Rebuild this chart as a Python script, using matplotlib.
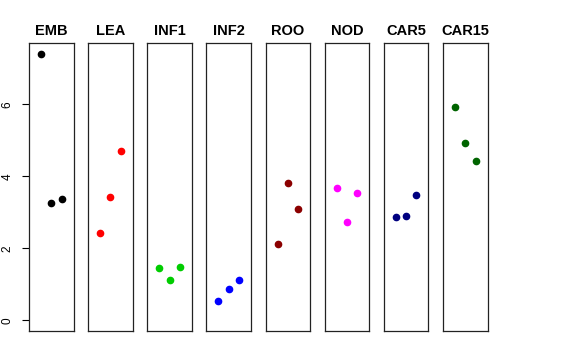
#!/usr/bin/env python3
import matplotlib
matplotlib.use("Agg")
import matplotlib.pyplot as plt

plt.rcParams["font.family"] = ["Liberation Sans", "DejaVu Sans"]

tissues = ["EMB", "LEA", "INF1", "INF2", "ROO", "NOD", "CAR5", "CAR15"]
colors = ["black", "red", "#00CD00", "blue", "#8B0000", "magenta", "#000080", "#006400"]
reps = [1, 2, 3]
values = [
    [7.41, 3.27, 3.38],
    [2.44, 3.42, 4.70],
    [1.45, 1.12, 1.49],
    [0.53, 0.86, 1.12],
    [2.13, 3.82, 3.10],
    [3.68, 2.74, 3.53],
    [2.88, 2.91, 3.48],
    [5.93, 4.93, 4.44],
]
yticks = [0, 2, 4, 6]

W, H = 576, 360
fig = plt.figure(figsize=(W / 100, H / 100), dpi=100)

ymax = max(max(v) for v in values)
pad = 0.04 * ymax
for i, (name, col, vals) in enumerate(zip(tissues, colors, values)):
    left = 29 + i * 59.15
    ax = fig.add_axes([left / W, 29 / H, 44.5 / W, 288 / H])
    ax.plot(reps, vals, "o", color=col, markersize=4.5, linestyle="none")
    ax.set_xlim(0 - 0.16, 4 + 0.16)
    ax.set_ylim(0 - pad, ymax + pad)
    ax.set_xticks([])
    for s in ax.spines.values():
        s.set_linewidth(0.9)
        s.set_color("#222222")
    ax.set_title(name, fontsize=10.5, fontweight="bold", pad=6)
    if i == 0:
        ax.set_yticks(yticks)
        ax.tick_params(axis="y", direction="out", length=5, width=0.8,
                       labelsize=8.5, pad=6)
        for lab in ax.get_yticklabels():
            lab.set_rotation(90)
            lab.set_va("center")
    else:
        ax.set_yticks([])

plt.savefig("out.png", dpi=100)
